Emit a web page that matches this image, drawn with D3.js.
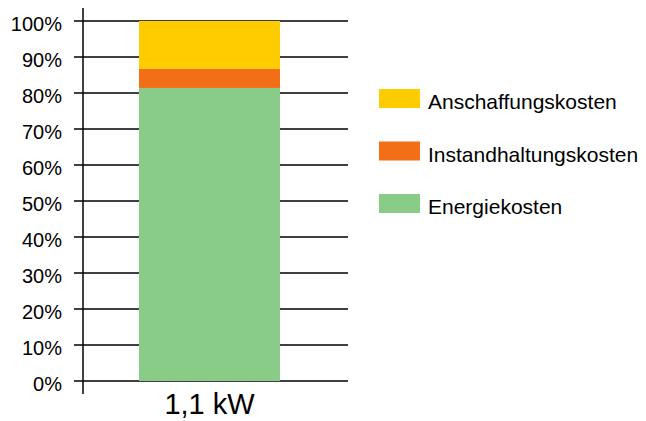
<!DOCTYPE html>
<html><head><meta charset="utf-8">
<script src="https://cdn.jsdelivr.net/npm/d3@7"></script>
<style>body{margin:0;background:#fff}svg{display:block}</style>
</head><body>
<svg id="c" width="646" height="421" font-family="Liberation Sans, Arial, Helvetica, sans-serif"></svg>
<script>
const categories = ["1,1 kW"];
const seriesNames = ["Energiekosten", "Instandhaltungskosten", "Anschaffungskosten"];
const energiekosten = [81.4];
const instandhaltungskosten = [5.3];
const anschaffungskosten = [13.3];
const yTicks = [0,10,20,30,40,50,60,70,80,90,100];
const colors = {"Energiekosten":"#88cc88","Instandhaltungskosten":"#f36f17","Anschaffungskosten":"#ffcc00"};

const svg = d3.select("#c");
const y = d3.scaleLinear().domain([0,100]).range([381,21]);

// gridlines
svg.append("g").selectAll("line").data(yTicks).join("line")
  .attr("x1",74).attr("x2",348).attr("y1",d=>y(d)).attr("y2",d=>y(d))
  .attr("stroke","#000").attr("stroke-width",1.5);

// stacked data
const rows = categories.map((c,i)=>({cat:c, Energiekosten:energiekosten[i], Instandhaltungskosten:instandhaltungskosten[i], Anschaffungskosten:anschaffungskosten[i]}));
const stack = d3.stack().keys(seriesNames)(rows);
const xb = d3.scaleBand().domain(categories).range([139, 280]);
svg.append("g").selectAll("g").data(stack).join("g").attr("fill",d=>colors[d.key])
  .selectAll("rect").data(d=>d).join("rect")
  .attr("x",d=>xb(d.data.cat)).attr("width",xb.bandwidth())
  .attr("y",d=>y(d[1])).attr("height",d=>y(d[0])-y(d[1]));

// y axis line
svg.append("line").attr("x1",83).attr("x2",83).attr("y1",8).attr("y2",394).attr("stroke","#000").attr("stroke-width",1.5);

// tick labels
svg.append("g").selectAll("text").data(yTicks).join("text")
  .attr("x",62).attr("y",d=>y(d)+10).attr("text-anchor","end")
  .attr("font-size",20).text(d=>d+"%");

// category label
svg.append("g").selectAll("text").data(categories).join("text")
  .attr("x",d=>xb(d)+xb.bandwidth()/2).attr("y",414).attr("text-anchor","middle")
  .attr("font-size",29).text(d=>d);

// legend
const legendItems = ["Anschaffungskosten","Instandhaltungskosten","Energiekosten"];
const lg = svg.append("g").selectAll("g").data(legendItems).join("g")
  .attr("transform",(d,i)=>`translate(379,${89+i*52.5})`);
lg.append("rect").attr("width",41).attr("height",19).attr("fill",d=>colors[d]);
lg.append("text").attr("x",49).attr("y",20).attr("font-size",21).text(d=>d);
</script>
</body></html>
